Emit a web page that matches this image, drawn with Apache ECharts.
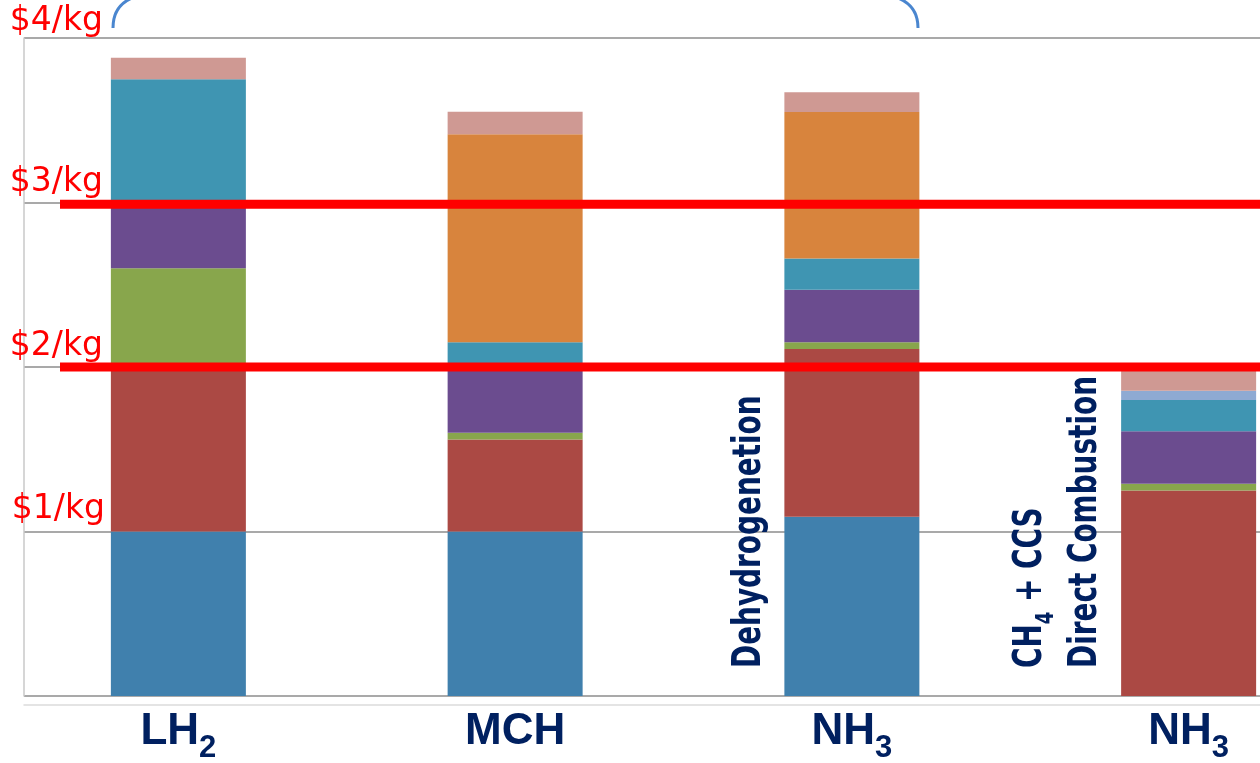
<!DOCTYPE html>
<html>
<head>
<meta charset="utf-8">
<script src="https://cdn.jsdelivr.net/npm/echarts@6/dist/echarts.min.js"></script>
<style>
  html, body { margin: 0; padding: 0; background: #ffffff; }
  #chart { width: 1260px; height: 763px; }
</style>
</head>
<body>
<div id="chart"></div>
<script>
// Carrier categories (trailing digit is drawn as a subscript)
const categories = ['LH2', 'MCH', 'NH3', 'NH3'];

// Y tick labels, $/kg
const yTickLabels = ['', '$1/kg', '$2/kg', '$3/kg', '$4/kg'];

// Stacked cost segments, $/kg, bottom to top
const blueSeg      = [1.00, 1.00, 1.09, 0];
const redSeg       = [1.00, 0.56, 1.02, 1.25];
const greenSeg     = [0.60, 0.04, 0.04, 0.04];
const purpleSeg    = [0.40, 0.40, 0.32, 0.32];
const tealSeg      = [0.75, 0.15, 0.19, 0.19];
const orangeSeg    = [0, 1.265, 0.89, 0];
const lightBlueSeg = [0, 0, 0, 0.055];
const pinkSeg      = [0.13, 0.137, 0.12, 0.12];

// Target price lines, $/kg
const thresholds = [2.99, 2.0];

const segments = [
  { name: 'blue',      data: blueSeg,      color: '#4080ad' },
  { name: 'red',       data: redSeg,       color: '#ab4944' },
  { name: 'green',     data: greenSeg,     color: '#88a64c' },
  { name: 'purple',    data: purpleSeg,    color: '#6b4c8f' },
  { name: 'teal',      data: tealSeg,      color: '#3f95b2' },
  { name: 'orange',    data: orangeSeg,    color: '#d8843d' },
  { name: 'lightblue', data: lightBlueSeg, color: '#8eaad3' },
  { name: 'pink',      data: pinkSeg,      color: '#cf9993' }
];

const navy = '#002060';
const gridTop = 38, gridBottom = 67;
const noteFont = { fontFamily: 'DejaVu Sans Condensed', fontWeight: 'bold', fontSize: 31, lineHeight: 34, fill: navy, verticalAlign: 'top' };

const chart = echarts.init(document.getElementById('chart'), null, { renderer: 'canvas' });

const barSeries = segments.map(s => ({
  name: s.name,
  type: 'bar',
  stack: 'cost',
  xAxisIndex: 1,
  yAxisIndex: 1,
  barWidth: 135,
  data: s.data,
  itemStyle: { color: s.color },
  silent: true
}));

const lineSeries = thresholds.map(t => ({
  type: 'line',
  xAxisIndex: 2,
  yAxisIndex: 2,
  data: [[0, t], [1, t]],
  symbol: 'none',
  silent: true,
  lineStyle: { color: '#ff0000', width: 9 },
  z: 5
}));

// vertical note text, drawn rotated so it reads bottom-to-top
function note(x, text, extraRich) {
  return {
    type: 'text', silent: true, x: x, y: 668, rotation: Math.PI / 2, scaleY: 1.25, z: 10,
    style: {
      text: text, fill: navy, align: 'left', verticalAlign: 'middle',
      rich: Object.assign({ b: noteFont }, extraRich || {})
    }
  };
}

const option = {
  backgroundColor: '#ffffff',
  animation: false,
  grid: [
    { left: 24, right: 0, top: gridTop, bottom: gridBottom, outerBoundsMode: 'none' },
    { left: 10, width: 1347, top: gridTop, bottom: gridBottom, outerBoundsMode: 'none' },
    { left: 60, right: 0, top: gridTop, bottom: gridBottom, outerBoundsMode: 'none' }
  ],
  xAxis: [
    {
      gridIndex: 0, type: 'value', min: 0, max: 1,
      axisLine: { show: true, onZero: false, lineStyle: { color: '#dcdcdc', width: 1.5 } },
      offset: 9,
      axisTick: { show: false }, axisLabel: { show: false }, splitLine: { show: false }
    },
    {
      gridIndex: 1, type: 'category', data: categories,
      axisLine: { show: false }, axisTick: { show: false }, splitLine: { show: false },
      axisLabel: {
        margin: 14,
        verticalAlign: 'top',
        formatter: v => {
          const m = v.match(/^(.*?)(\d*)$/);
          return m[2] ? '{m|' + m[1] + '}{s|' + m[2] + '}' : '{m|' + v + '}';
        },
        rich: {
          m: { fontFamily: 'Liberation Sans', fontWeight: 'bold', fontSize: 44, lineHeight: 44, color: navy, verticalAlign: 'top' },
          s: { fontFamily: 'Liberation Sans', fontWeight: 'bold', fontSize: 31, lineHeight: 31, color: navy, verticalAlign: 'top', padding: [23, 0, 0, 0] }
        }
      }
    },
    {
      gridIndex: 2, type: 'value', min: 0, max: 1, show: false
    }
  ],
  yAxis: [
    {
      gridIndex: 0, type: 'value', min: 0, max: 4, interval: 1,
      axisLine: { show: true, lineStyle: { color: '#c8c8c8', width: 1.5 } },
      axisTick: { show: false },
      splitLine: { show: true, lineStyle: { color: '#a9a9a9', width: 2 } },
      axisLabel: {
        margin: -79,
        align: 'right',
        verticalAlign: 'bottom',
        formatter: v => yTickLabels[v] ? '{t' + v + '|' + yTickLabels[v] + '}' : '',
        rich: {
          t1: { fontFamily: 'DejaVu Sans', fontSize: 33, lineHeight: 33, color: '#ff0000', padding: [0, -2, 11, 0] },
          t2: { fontFamily: 'DejaVu Sans', fontSize: 33, lineHeight: 33, color: '#ff0000', padding: [0, 0, 9, 0] },
          t3: { fontFamily: 'DejaVu Sans', fontSize: 33, lineHeight: 33, color: '#ff0000', padding: [0, 0, 8, 0] },
          t4: { fontFamily: 'DejaVu Sans', fontSize: 33, lineHeight: 33, color: '#ff0000', padding: [0, 0, 1, 0] }
        }
      }
    },
    { gridIndex: 1, type: 'value', min: 0, max: 4, show: false },
    { gridIndex: 2, type: 'value', min: 0, max: 4, show: false }
  ],
  series: barSeries.concat(lineSeries),
  graphic: [
    // bracket ends at the top edge
    { type: 'bezierCurve', silent: true, shape: { x1: 113, y1: 28, cpx1: 113, cpy1: 6, x2: 132, y2: -2 },
      style: { stroke: '#4a86cf', lineWidth: 3, fill: null } },
    { type: 'bezierCurve', silent: true, shape: { x1: 898, y1: -2, cpx1: 918, cpy1: 6, x2: 918, y2: 28 },
      style: { stroke: '#4a86cf', lineWidth: 3, fill: null } },
    // vertical annotations
    note(752, '{b|Dehydrogenetion}'),
    note(1033, '{b|CH}{s|4}{b| + CCS}', {
      s: { fontFamily: 'DejaVu Sans Condensed', fontWeight: 'bold', fontSize: 20, lineHeight: 20, fill: navy, verticalAlign: 'top', padding: [18, 0, 0, 0] }
    }),
    note(1088, '{b|Direct Combustion}')
  ]
};

chart.setOption(option);
</script>
</body>
</html>
